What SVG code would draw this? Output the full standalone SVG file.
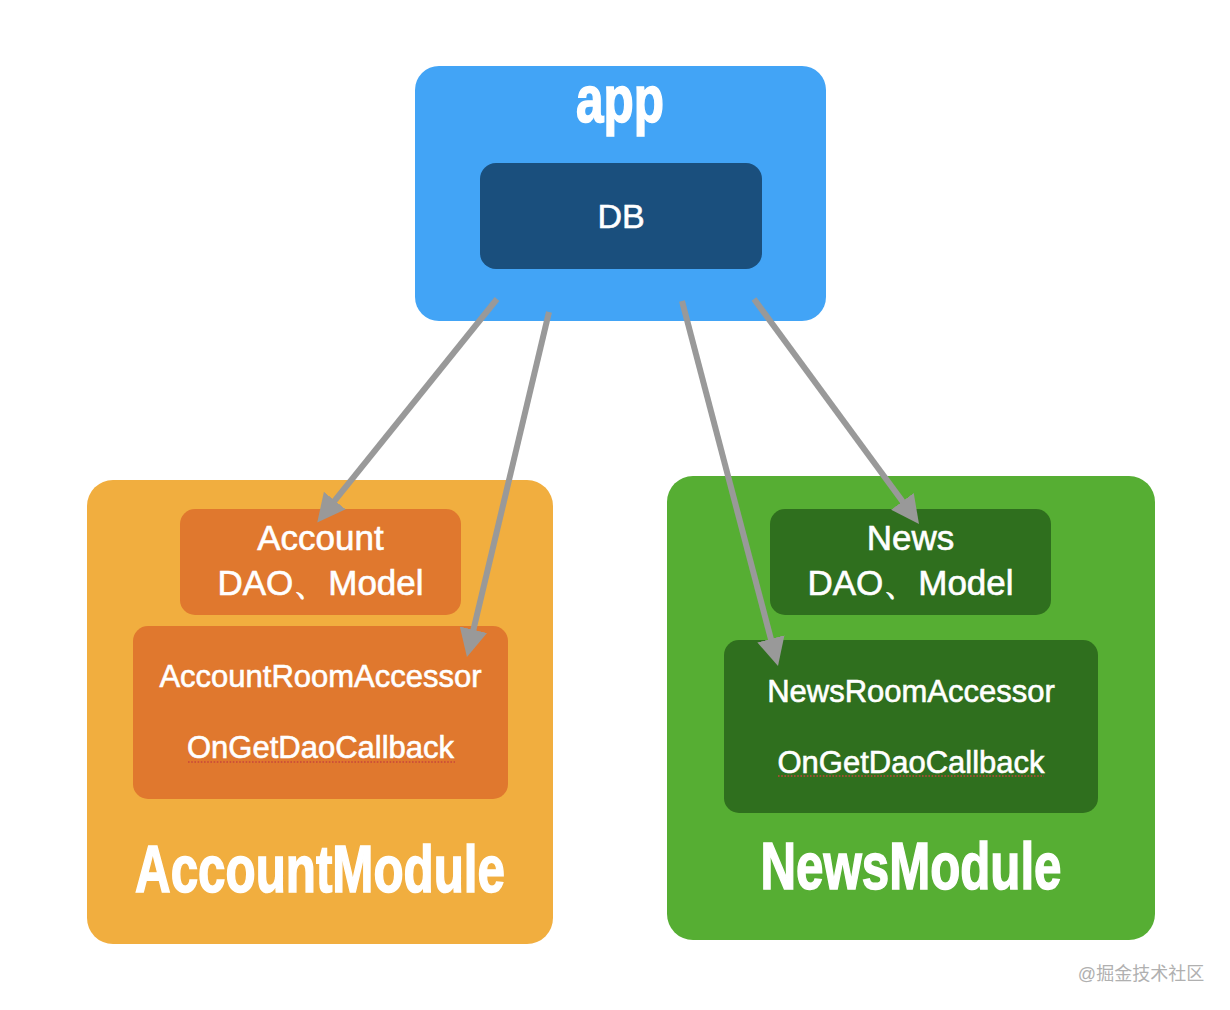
<svg xmlns="http://www.w3.org/2000/svg" width="1230" height="1010" viewBox="0 0 1230 1010">
<style>
.t{font-family:"Liberation Sans",Arial,sans-serif;fill:#fff;text-anchor:middle;stroke:#fff;stroke-width:0.6}
.big{font-weight:bold;font-size:58px;stroke-width:1.4}
.lbl{font-size:35px}
.acc{font-size:31px}
.con{stroke:#999;stroke-width:6;fill:none;marker-end:url(#ah)}
.sq{stroke:#c8463a;stroke-width:1.6;stroke-dasharray:1.6 1.6;fill:none}
</style>
<defs>
<marker id="ah" markerUnits="userSpaceOnUse" markerWidth="30" markerHeight="30" refX="4" refY="14" orient="auto" viewBox="0 0 30 28">
<path d="M0,0 L28,14 L0,28 z" fill="#999"/>
</marker>
</defs>
<rect width="1230" height="1010" fill="#fff"/>
<g id="app">
<rect x="415" y="66" width="411" height="255" rx="24" fill="#42a4f6"/>
<text class="t big" transform="translate(620,122) scale(1,1.15)" textLength="88" lengthAdjust="spacingAndGlyphs">app</text>
</g>
<g id="db">
<rect x="480" y="163" width="282" height="106" rx="16" fill="#1a4f7d"/>
<text class="t" x="621" y="228" font-size="34">DB</text>
</g>
<g id="accountModule">
<rect x="87" y="480" width="466" height="464" rx="26" fill="#f1ae3f"/>
<text class="t big" transform="translate(320,892) scale(1,1.15)" textLength="370" lengthAdjust="spacingAndGlyphs">AccountModule</text>
</g>
<g id="accountDao">
<rect x="180" y="509" width="281" height="106" rx="15" fill="#e0782e"/>
<text class="t lbl" x="320.5" y="550">Account</text>
<text class="t lbl" x="320.5" y="595">DAO、Model</text>
</g>
<g id="accountAccessor">
<rect x="133" y="626" width="375" height="173" rx="15" fill="#e0782e"/>
<text class="t acc" x="320.5" y="687">AccountRoomAccessor</text>
<text class="t acc" x="320.5" y="758">OnGetDaoCallback</text>
<line class="sq" x1="188" y1="762" x2="455" y2="762"/>
</g>
<g id="newsModule">
<rect x="667" y="476" width="488" height="464" rx="26" fill="#56ae33"/>
<text class="t big" transform="translate(911,889) scale(1,1.15)" textLength="301" lengthAdjust="spacingAndGlyphs">NewsModule</text>
</g>
<g id="newsDao">
<rect x="770" y="509" width="281" height="106" rx="15" fill="#2f6f1e"/>
<text class="t lbl" x="910.5" y="550">News</text>
<text class="t lbl" x="910.5" y="595">DAO、Model</text>
</g>
<g id="newsAccessor">
<rect x="724" y="640" width="374" height="173" rx="15" fill="#2f6f1e"/>
<text class="t acc" x="911" y="702">NewsRoomAccessor</text>
<text class="t acc" x="911" y="773">OnGetDaoCallback</text>
<line class="sq" x1="778" y1="776" x2="1044" y2="776"/>
</g>
<g id="connectors">
<line class="con" x1="497" y1="299" x2="332.3" y2="503.7"/>
<line class="con" x1="549" y1="312" x2="472.5" y2="633.6"/>
<line class="con" x1="682" y1="301" x2="771.9" y2="642.8"/>
<line class="con" x1="754" y1="299" x2="904.8" y2="504.6"/>
</g>
<text x="1141" y="980" text-anchor="middle" font-family="'Liberation Sans','Noto Sans CJK SC',sans-serif" font-size="18" fill="#b0b0b0">@掘金技术社区</text>
</svg>
